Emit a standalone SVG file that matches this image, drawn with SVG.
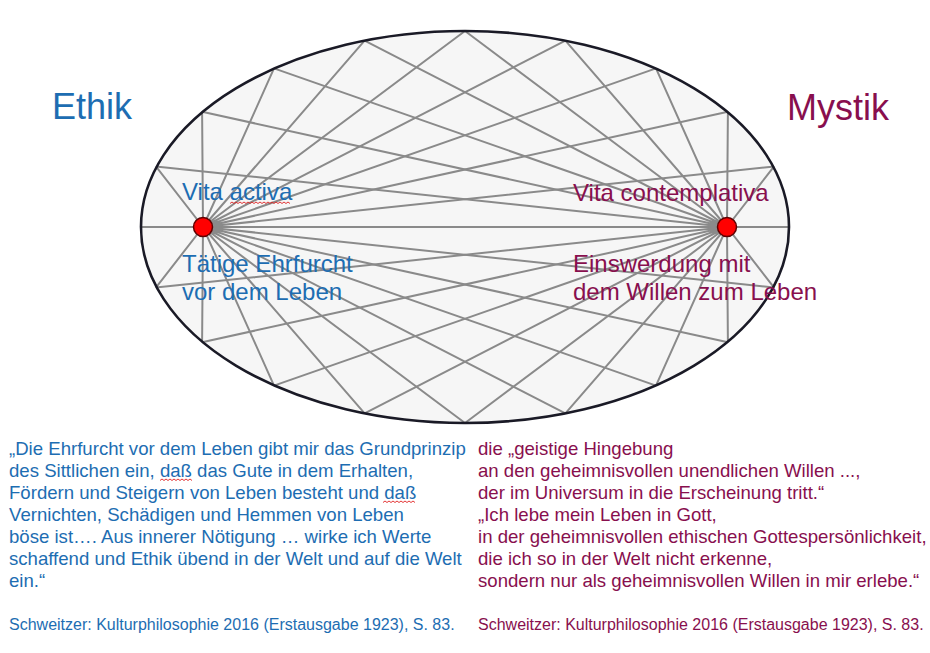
<svg xmlns="http://www.w3.org/2000/svg" width="930" height="653" viewBox="0 0 930 653">
<style>
text{font-family:"Liberation Sans",Arial,sans-serif}
.blue{fill:#1d6db2}
.red{fill:#880f4e}
.title{font-size:36px}
.lab{font-size:24px}
.quote{font-size:18.6px}
.cite{font-size:16px}
.ray{stroke:#8a8a8a;stroke-width:2;fill:none}
.wave{stroke:#e02020;stroke-width:0.9;fill:none}
.focus{fill:#ff0000;stroke:#600000;stroke-width:1.5}
</style>
<rect width="930" height="653" fill="#ffffff"/>
<g id="ellipse">
<ellipse cx="465" cy="227" rx="324" ry="196" fill="#f6f6f6"/>
</g>
<g id="connectors" class="ray">
<line x1="141" y1="227" x2="789" y2="227"/>
<path d="M203,227 L774.1,166.4 M203,227 L727.9,111.8 M203,227 L656,68.4 M203,227 L565.4,40.6 M203,227 L465,31 M203,227 L364.6,40.6 M203,227 L274,68.4 M203,227 L202.1,111.8 M203,227 L155.9,166.4"/>
<path d="M203,227 L774.1,287.6 M203,227 L727.9,342.2 M203,227 L656,385.6 M203,227 L565.4,413.4 M203,227 L465,423 M203,227 L364.6,413.4 M203,227 L274,385.6 M203,227 L202.1,342.2 M203,227 L155.9,287.6"/>
<path d="M727,227 L774.1,166.4 M727,227 L727.9,111.8 M727,227 L656,68.4 M727,227 L565.4,40.6 M727,227 L465,31 M727,227 L364.6,40.6 M727,227 L274,68.4 M727,227 L202.1,111.8 M727,227 L155.9,166.4"/>
<path d="M727,227 L774.1,287.6 M727,227 L727.9,342.2 M727,227 L656,385.6 M727,227 L565.4,413.4 M727,227 L465,423 M727,227 L364.6,413.4 M727,227 L274,385.6 M727,227 L202.1,342.2 M727,227 L155.9,287.6"/>
</g>
<g id="ellipse-outline">
<ellipse cx="465" cy="227" rx="324" ry="196" fill="none" stroke="#1a1a26" stroke-width="2.6"/>
</g>
<g id="ethik">
<text class="blue title" x="52" y="119">Ethik</text>
</g>
<g id="mystik">
<text class="red title" x="787" y="120">Mystik</text>
</g>
<g id="focus-left">
<circle class="focus" cx="203" cy="227" r="9.5"/>
<text class="blue lab" x="182" y="200">Vita activa</text>
<path class="wave" d="M230,203.5 l2,-1.5 l2,1.5 l2,-1.5 l2,1.5 l2,-1.5 l2,1.5 l2,-1.5 l2,1.5 l2,-1.5 l2,1.5 l2,-1.5 l2,1.5 l2,-1.5 l2,1.5 l2,-1.5 l2,1.5 l2,-1.5 l2,1.5 l2,-1.5 l2,1.5 l2,-1.5 l2,1.5 l2,-1.5 l2,1.5 l2,-1.5 l2,1.5 l2,-1.5 l2,1.5 l2,-1.5 l2,1.5"/>
<text class="blue lab" x="182" y="272">Tätige Ehrfurcht</text>
<text class="blue lab" x="182" y="300">vor dem Leben</text>
</g>
<g id="focus-right">
<circle class="focus" cx="727" cy="227" r="9.5"/>
<text class="red lab" x="573" y="201">Vita contemplativa</text>
<text class="red lab" x="573" y="272">Einswerdung mit</text>
<text class="red lab" x="573" y="300">dem Willen zum Leben</text>
</g>
<g id="quote-left">
<text class="blue quote" x="9" y="455">„Die Ehrfurcht vor dem Leben gibt mir das Grundprinzip</text>
<text class="blue quote" x="9" y="477">des Sittlichen ein, daß das Gute in dem Erhalten,</text>
<text class="blue quote" x="9" y="499">Fördern und Steigern von Leben besteht und daß</text>
<text class="blue quote" x="9" y="521">Vernichten, Schädigen und Hemmen von Leben</text>
<text class="blue quote" x="9" y="543">böse ist…. Aus innerer Nötigung … wirke ich Werte</text>
<text class="blue quote" x="9" y="565">schaffend und Ethik übend in der Welt und auf die Welt</text>
<text class="blue quote" x="9" y="587">ein.“</text>
<path class="wave" d="M160,480.5 l2,-1.5 l2,1.5 l2,-1.5 l2,1.5 l2,-1.5 l2,1.5 l2,-1.5 l2,1.5 l2,-1.5 l2,1.5 l2,-1.5 l2,1.5 l2,-1.5 l2,1.5 l2,-1.5 l2,1.5"/>
<path class="wave" d="M383,502.5 l2,-1.5 l2,1.5 l2,-1.5 l2,1.5 l2,-1.5 l2,1.5 l2,-1.5 l2,1.5 l2,-1.5 l2,1.5 l2,-1.5 l2,1.5 l2,-1.5 l2,1.5 l2,-1.5 l2,1.5"/>
<text class="blue cite" x="9" y="630">Schweitzer: Kulturphilosophie 2016 (Erstausgabe 1923), S. 83.</text>
</g>
<g id="quote-right">
<text class="red quote" x="478" y="455">die „geistige Hingebung</text>
<text class="red quote" x="478" y="477">an den geheimnisvollen unendlichen Willen ...,</text>
<text class="red quote" x="478" y="499">der im Universum in die Erscheinung tritt.“</text>
<text class="red quote" x="478" y="521">„Ich lebe mein Leben in Gott,</text>
<text class="red quote" x="478" y="543">in der geheimnisvollen ethischen Gottespersönlichkeit,</text>
<text class="red quote" x="478" y="565">die ich so in der Welt nicht erkenne,</text>
<text class="red quote" x="478" y="587">sondern nur als geheimnisvollen Willen in mir erlebe.“</text>
<text class="red cite" x="478" y="630">Schweitzer: Kulturphilosophie 2016 (Erstausgabe 1923), S. 83.</text>
</g>
</svg>
